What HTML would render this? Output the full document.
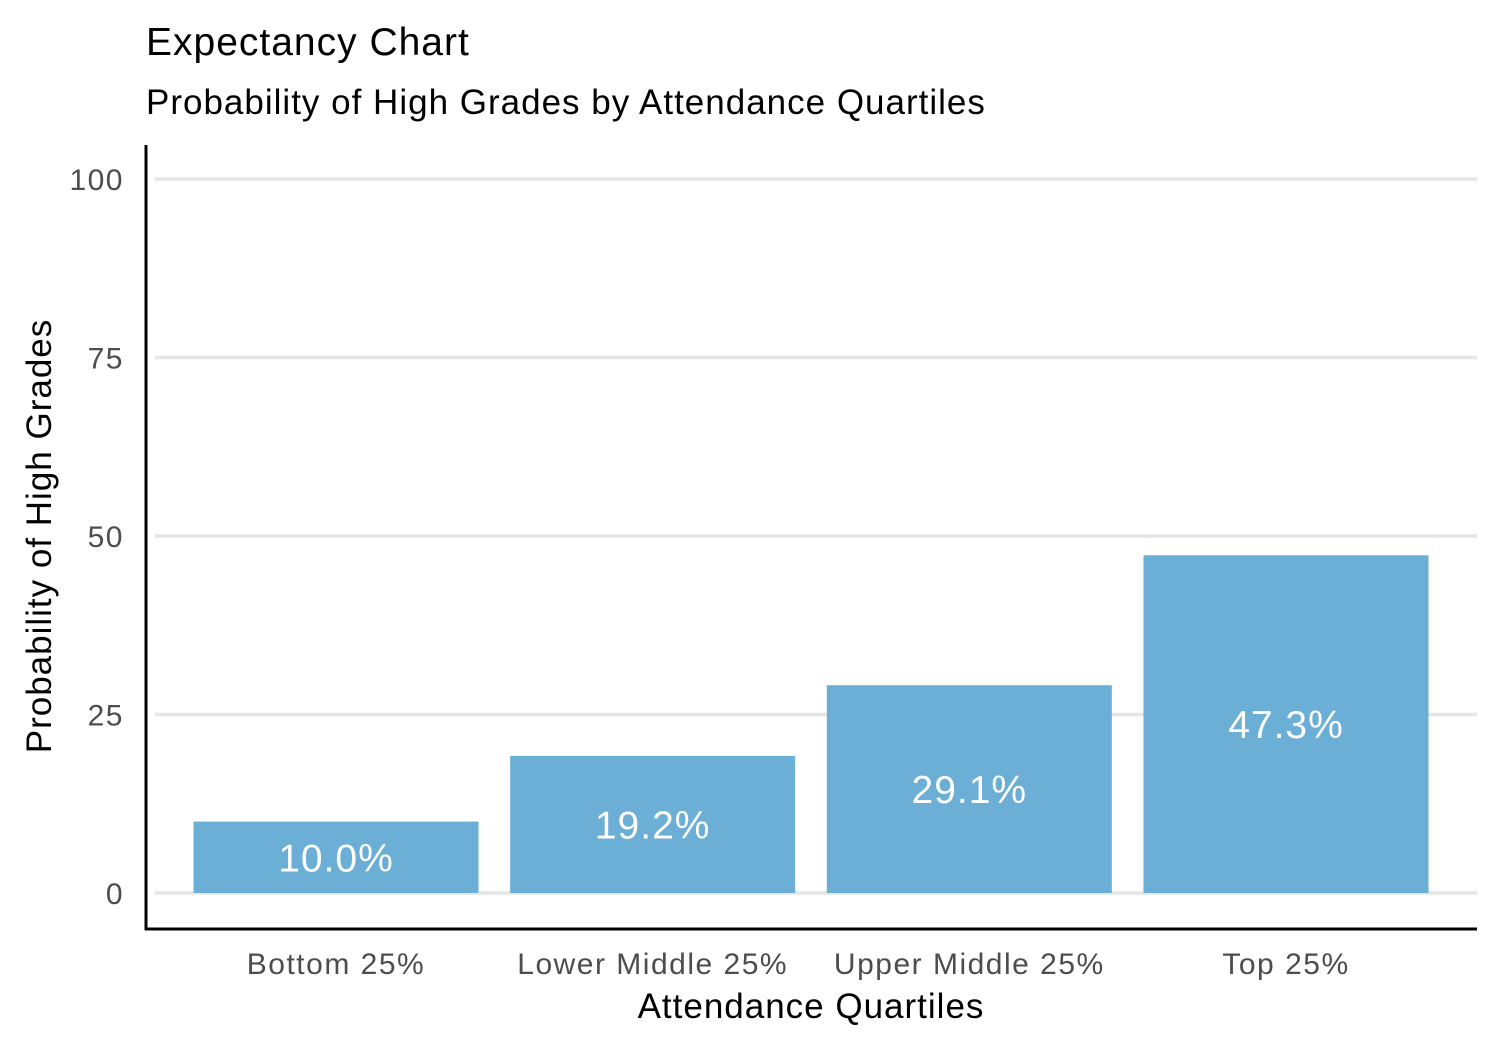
<!DOCTYPE html>
<html>
<head>
<meta charset="utf-8">
<style>
  html,body{margin:0;padding:0;background:#fff;}
  body{width:1500px;height:1050px;overflow:hidden;font-family:"Liberation Sans",sans-serif;}
</style>
</head>
<body>
<svg id="chart" width="1500" height="1050" xmlns="http://www.w3.org/2000/svg" font-family="Liberation Sans, sans-serif">
  <text x="146" y="55" font-size="39" letter-spacing="1" fill="#000">Expectancy Chart</text>
  <text x="146" y="114" font-size="35" letter-spacing="1" fill="#000">Probability of High Grades by Attendance Quartiles</text>
  <g id="grid"></g>
  <g id="bars"></g>
  <g id="ylabels"></g>
  <g id="xlabels"></g>
  <line x1="146" y1="145" x2="146" y2="930" stroke="#000" stroke-width="3"/>
  <line x1="145" y1="929" x2="1477" y2="929" stroke="#000" stroke-width="3"/>
  <text x="811" y="1018" font-size="35" letter-spacing="1" text-anchor="middle" fill="#000">Attendance Quartiles</text>
  <text transform="translate(51,536) rotate(-90)" font-size="35" letter-spacing="1" text-anchor="middle" fill="#000">Probability of High Grades</text>
</svg>
<script>
const categories = ["Bottom 25%", "Lower Middle 25%", "Upper Middle 25%", "Top 25%"];
const values = [10.0, 19.2, 29.1, 47.3];
const valueLabels = ["10.0%", "19.2%", "29.1%", "47.3%"];
const yTicks = [0, 25, 50, 75, 100];

const NS = "http://www.w3.org/2000/svg";
function yScale(v){ return 893 - v * 7.14; }
const bandStep = 1330 / 4.2;
function xCenter(i){ return 146 + (0.6 + i) * bandStep; }
const barW = bandStep * 0.9;

const grid = document.getElementById('grid');
const yl = document.getElementById('ylabels');
yTicks.forEach(t => {
  const ln = document.createElementNS(NS, 'line');
  
  
  ln.setAttribute('x1', 155); ln.setAttribute('x2', 1477);
  ln.setAttribute('y1', yScale(t)); ln.setAttribute('y2', yScale(t));
  ln.setAttribute('stroke', '#e5e5e5'); ln.setAttribute('stroke-width', 3.5);
  grid.appendChild(ln);
  const tx = document.createElementNS(NS, 'text');
  
  
  tx.setAttribute('x', 124); tx.setAttribute('y', yScale(t) + 11);
  tx.setAttribute('font-size', 30); tx.setAttribute('letter-spacing', 1.5); tx.setAttribute('text-anchor', 'end');
  tx.setAttribute('fill', '#4d4d4d');
  tx.textContent = t;
  yl.appendChild(tx);
});

const bars = document.getElementById('bars');
const xl = document.getElementById('xlabels');
categories.forEach((c, i) => {
  const cx = xCenter(i);
  const r = document.createElementNS(NS, 'rect');
  
  
  r.setAttribute('x', cx - barW / 2); r.setAttribute('width', barW);
  r.setAttribute('y', yScale(values[i])); r.setAttribute('height', yScale(0) - yScale(values[i]));
  r.setAttribute('fill', '#6baed6');
  bars.appendChild(r);
  const lb = document.createElementNS(NS, 'text');
  
  
  lb.setAttribute('x', cx); lb.setAttribute('y', yScale(values[i] / 2) + 14);
  lb.setAttribute('font-size', 39); lb.setAttribute('letter-spacing', 1); lb.setAttribute('text-anchor', 'middle');
  lb.setAttribute('fill', '#fff');
  lb.textContent = valueLabels[i];
  bars.appendChild(lb);
  const xt = document.createElementNS(NS, 'text');
  
  
  xt.setAttribute('x', cx); xt.setAttribute('y', 974);
  xt.setAttribute('font-size', 30); xt.setAttribute('letter-spacing', 1.5); xt.setAttribute('text-anchor', 'middle');
  xt.setAttribute('fill', '#4d4d4d');
  xt.textContent = c;
  xl.appendChild(xt);
});
</script>
</body>
</html>
